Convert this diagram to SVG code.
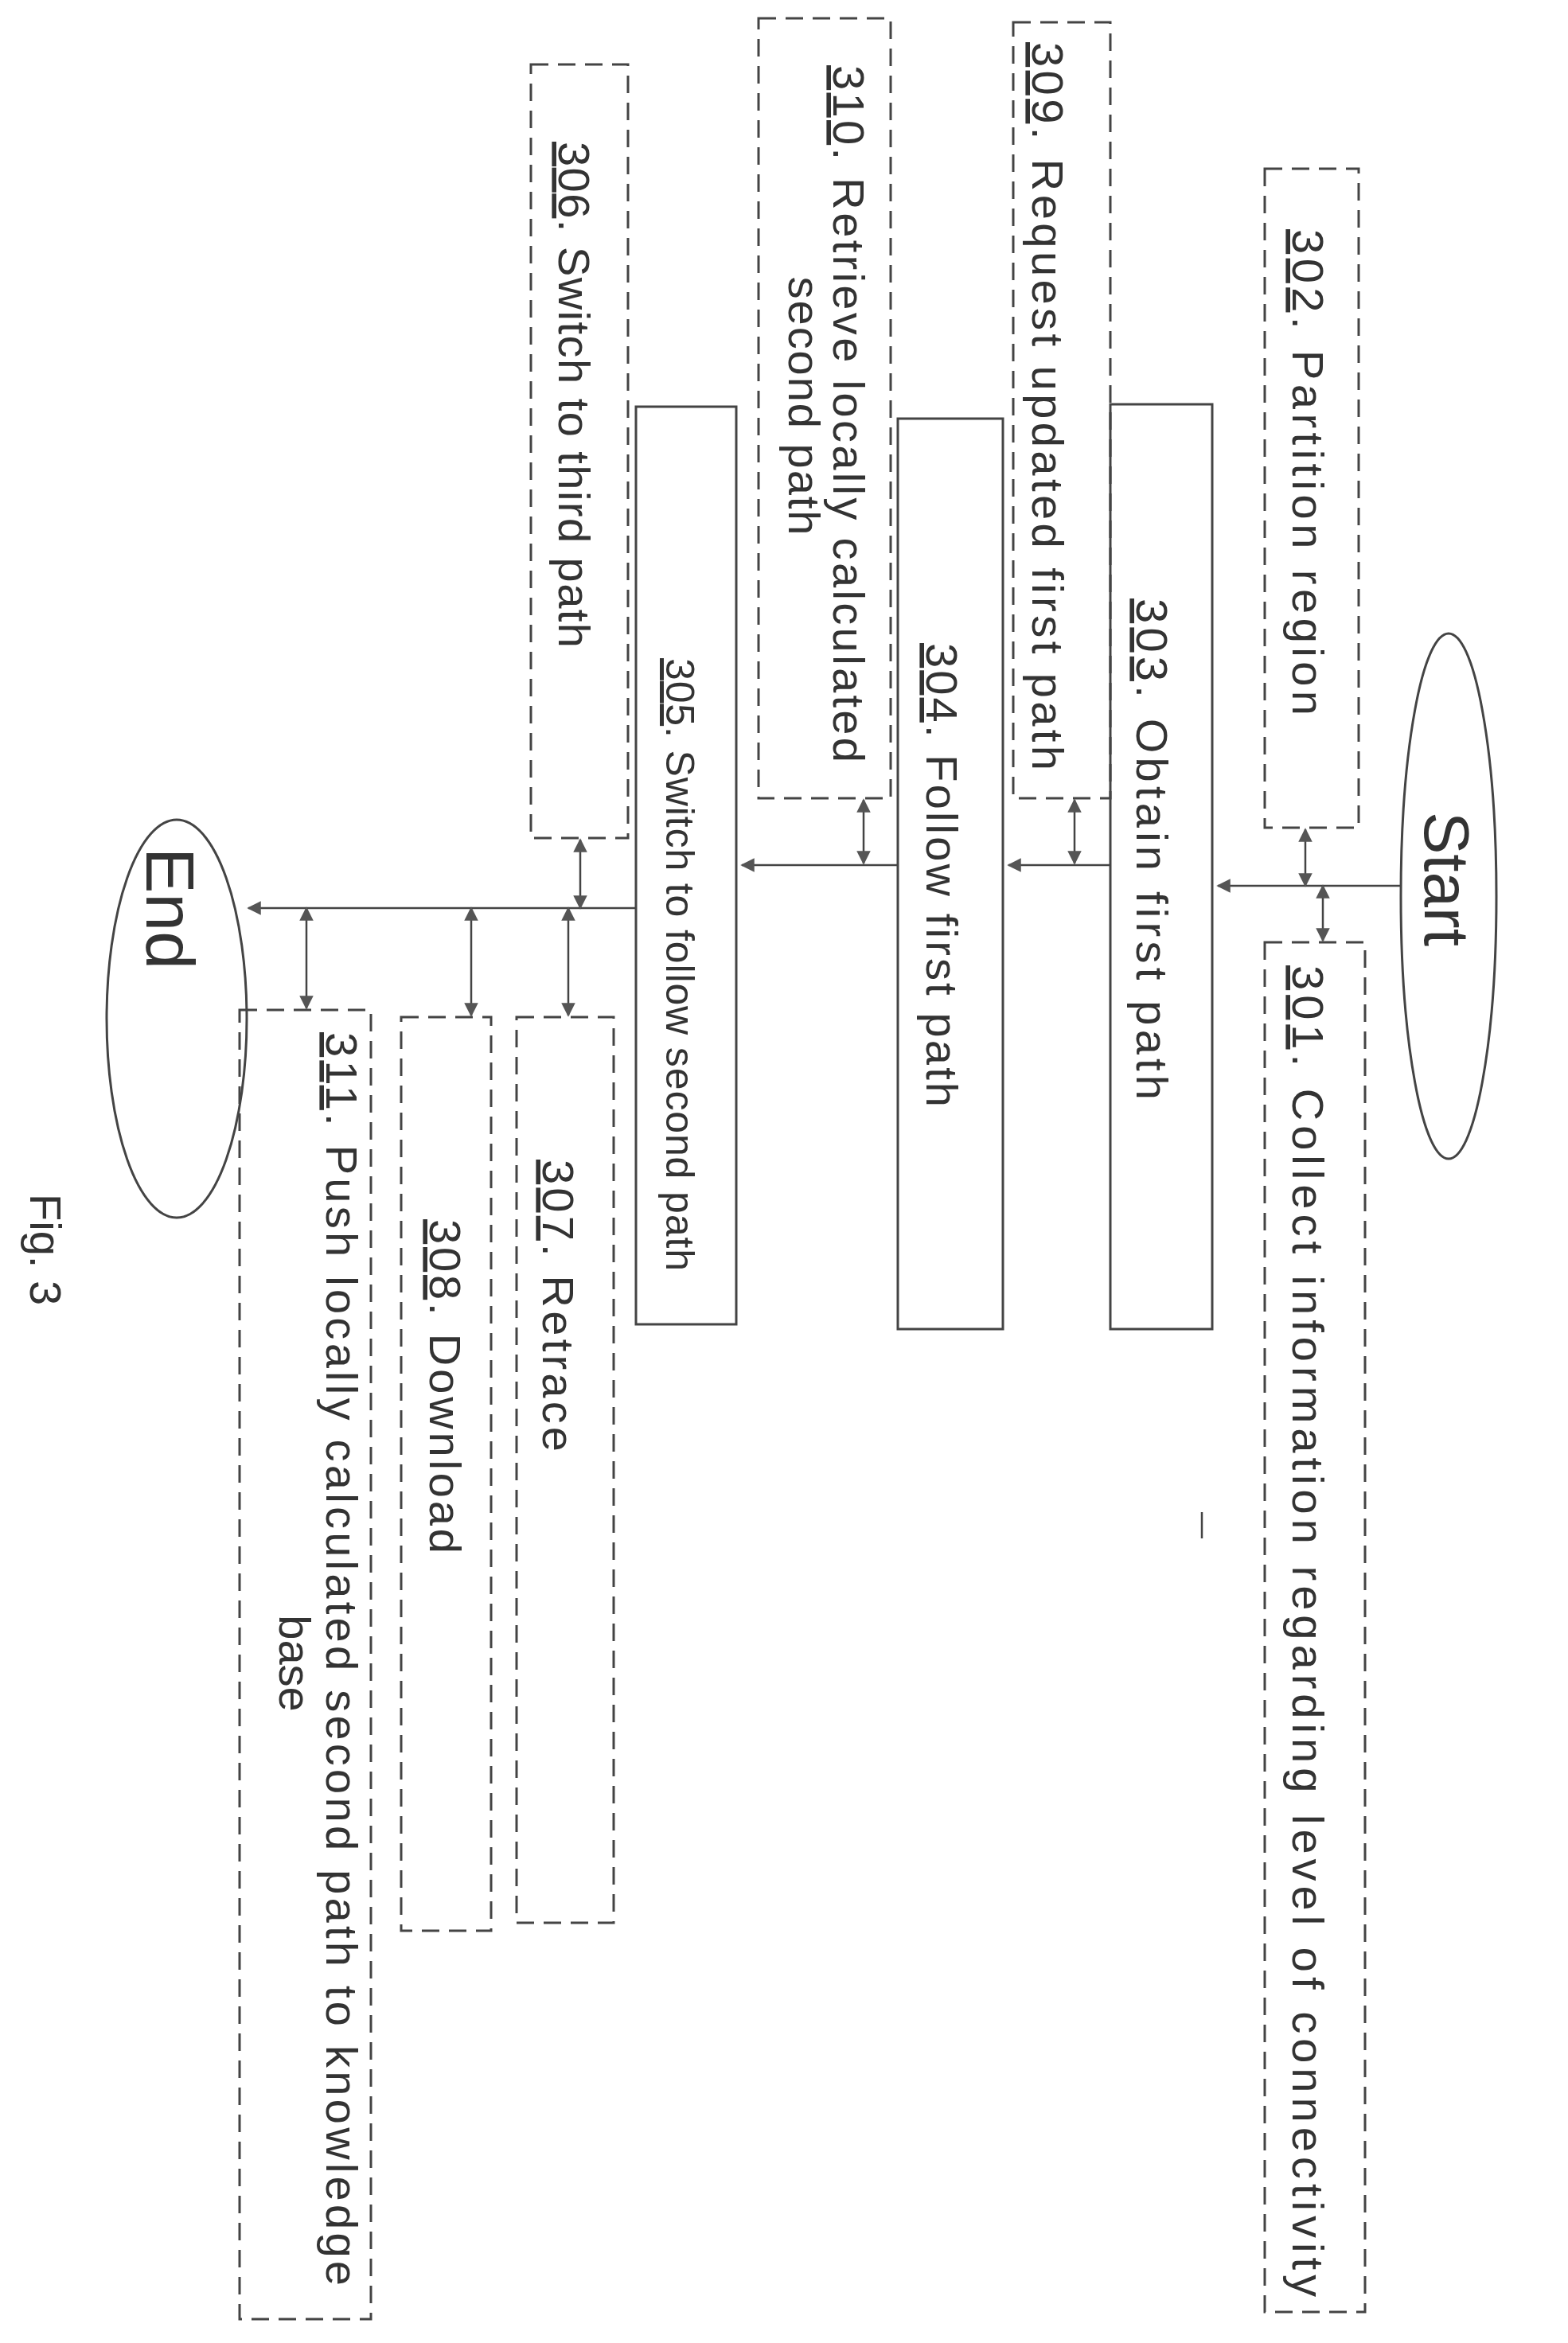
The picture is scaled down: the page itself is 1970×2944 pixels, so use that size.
<svg xmlns="http://www.w3.org/2000/svg" width="1970" height="2944" viewBox="0 0 1970 2944">
<style>
.s{fill:none;stroke:#444;stroke-width:3}
.d{fill:none;stroke:#444;stroke-width:3;stroke-dasharray:22 12}
.t{font-family:"Liberation Sans",Arial,sans-serif;font-size:56px;fill:#333}
.c{stroke:#444;stroke-width:2.5;fill:none}
</style>
<defs>
<marker id="a" viewBox="0 0 10 10" refX="9" refY="5" markerWidth="7" markerHeight="7" orient="auto-start-reverse"><path d="M0,0L10,5L0,10z" fill="#555"/></marker>
</defs>
<rect width="1970" height="2944" fill="#fff"/>
<g id="start"><ellipse class="s" cx="1820" cy="1126" rx="60" ry="330"/><text class="t" style="font-size:80px" transform="translate(1790,1020) rotate(90)">Start</text></g>
<g id="end"><ellipse class="s" cx="222" cy="1280" rx="88" ry="250"/><text class="t" style="font-size:86px" transform="translate(184,1065) rotate(90)">End</text></g>
<g id="n302"><rect class="d" x="1589" y="212" width="118" height="828"/><text class="t" transform="translate(1624,288) rotate(90)" textLength="611" lengthAdjust="spacing"><tspan text-decoration="underline">302</tspan>. Partition region</text></g>
<g id="n301"><rect class="d" x="1589" y="1184" width="126" height="1721"/><text class="t" transform="translate(1624,1213) rotate(90)" textLength="1673" lengthAdjust="spacing"><tspan text-decoration="underline">301</tspan>. Collect information regarding level of connectivity</text></g>
<g id="n303"><rect class="s" x="1395" y="508" width="128" height="1162"/><text class="t" transform="translate(1428,752) rotate(90)" textLength="630" lengthAdjust="spacing"><tspan text-decoration="underline">303</tspan>. Obtain first path</text></g>
<g id="n309"><rect class="d" x="1273" y="28" width="122" height="975"/><text class="t" transform="translate(1297,53) rotate(90)" textLength="915" lengthAdjust="spacing"><tspan text-decoration="underline">309</tspan>. Request updated first path</text></g>
<g id="n304"><rect class="s" x="1128" y="526" width="132" height="1144"/><text class="t" transform="translate(1164,808) rotate(90)" textLength="583" lengthAdjust="spacing"><tspan text-decoration="underline">304</tspan>. Follow first path</text></g>
<g id="n310"><rect class="d" x="953" y="23" width="166" height="980"/><text class="t" transform="translate(1047,82) rotate(90)" textLength="876" lengthAdjust="spacing"><tspan text-decoration="underline">310</tspan>. Retrieve locally calculated</text><text class="t" transform="translate(991,510) rotate(90)" text-anchor="middle" textLength="325" lengthAdjust="spacing">second path</text></g>
<g id="n305"><rect class="s" x="799" y="511" width="126" height="1153"/><text class="t" style="font-size:50px" transform="translate(837,827) rotate(90)" textLength="770" lengthAdjust="spacing"><tspan text-decoration="underline">305</tspan>. Switch to follow second path</text></g>
<g id="n306"><rect class="d" x="667" y="81" width="122" height="972"/><text class="t" transform="translate(702,178) rotate(90)" textLength="636" lengthAdjust="spacing"><tspan text-decoration="underline">306</tspan>. Switch to third path</text></g>
<g id="n307"><rect class="d" x="649" y="1278" width="122" height="1138"/><text class="t" transform="translate(682,1457) rotate(90)" textLength="367" lengthAdjust="spacing"><tspan text-decoration="underline">307</tspan>. Retrace</text></g>
<g id="n308"><rect class="d" x="504" y="1278" width="113" height="1148"/><text class="t" transform="translate(540,1532) rotate(90)" textLength="420" lengthAdjust="spacing"><tspan text-decoration="underline">308</tspan>. Download</text></g>
<g id="n311"><rect class="d" x="301" y="1269" width="165" height="1645"/><text class="t" transform="translate(410,1297) rotate(90)" textLength="1575" lengthAdjust="spacing"><tspan text-decoration="underline">311</tspan>. Push locally calculated second path to knowledge</text><text class="t" transform="translate(351,2090) rotate(90)" text-anchor="middle">base</text></g>
<text class="t" transform="translate(38,1500) rotate(90)">Fig. 3</text>
<line class="c" x1="1510" y1="1900" x2="1510" y2="1933"/>
<g id="connectors">
<line class="c" x1="1760" y1="1113" x2="1530" y2="1113" marker-end="url(#a)"/>
<line class="c" x1="1640" y1="1113" x2="1640" y2="1042" marker-end="url(#a)" marker-start="url(#a)"/>
<line class="c" x1="1662" y1="1113" x2="1662" y2="1182" marker-end="url(#a)" marker-start="url(#a)"/>
<line class="c" x1="1395" y1="1087" x2="1267" y2="1087" marker-end="url(#a)"/>
<line class="c" x1="1350" y1="1085" x2="1350" y2="1005" marker-end="url(#a)" marker-start="url(#a)"/>
<line class="c" x1="1128" y1="1087" x2="932" y2="1087" marker-end="url(#a)"/>
<line class="c" x1="1085" y1="1085" x2="1085" y2="1005" marker-end="url(#a)" marker-start="url(#a)"/>
<line class="c" x1="799" y1="1141" x2="312" y2="1141" marker-end="url(#a)"/>
<line class="c" x1="729" y1="1141" x2="729" y2="1055" marker-end="url(#a)" marker-start="url(#a)"/>
<line class="c" x1="714" y1="1141" x2="714" y2="1276" marker-end="url(#a)" marker-start="url(#a)"/>
<line class="c" x1="592" y1="1141" x2="592" y2="1276" marker-end="url(#a)" marker-start="url(#a)"/>
<line class="c" x1="385" y1="1141" x2="385" y2="1267" marker-end="url(#a)" marker-start="url(#a)"/>
</g>
</svg>
